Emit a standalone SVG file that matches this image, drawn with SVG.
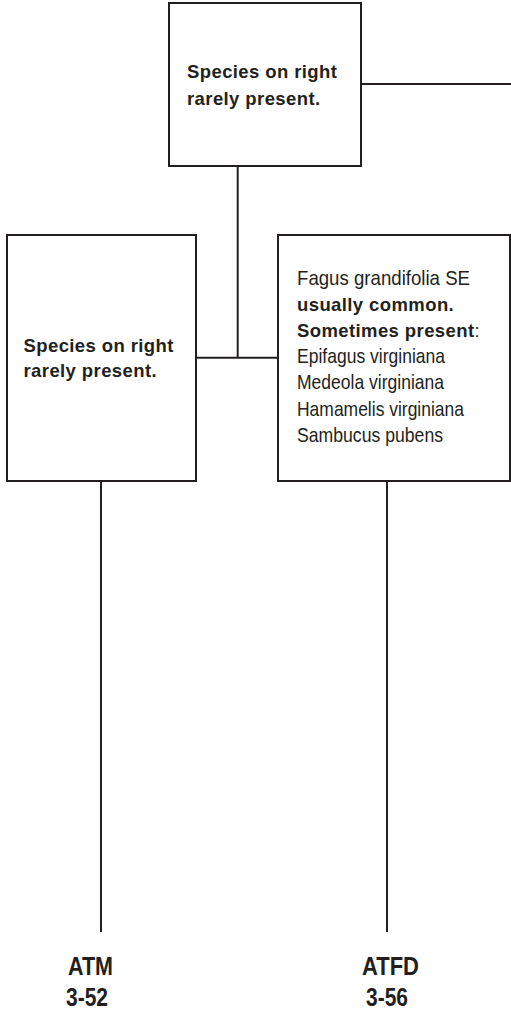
<svg xmlns="http://www.w3.org/2000/svg" width="511" height="1013" viewBox="0 0 511 1013">
<style>
.box{fill:#fff;stroke:#231f20;stroke-width:2}
.ln{stroke:#231f20;stroke-width:2;fill:none}
.b{font-family:"Liberation Sans",Arial,sans-serif;font-weight:bold;font-size:18.5px;letter-spacing:0.4px;fill:#231f20}
.r{font-family:"Liberation Sans",Arial,sans-serif;font-size:21px;fill:#231f20}
.lab{font-family:"Liberation Sans",Arial,sans-serif;font-weight:bold;font-size:25px;fill:#231f20}
</style>
<rect width="511" height="1013" fill="#fff"/>
<g id="connectors">
<line class="ln" x1="361" y1="84" x2="511" y2="84"/>
<line class="ln" x1="237.7" y1="166" x2="237.7" y2="358"/>
<line class="ln" x1="196" y1="357.7" x2="278" y2="357.7"/>
<line class="ln" x1="101" y1="481" x2="101" y2="932"/>
<line class="ln" x1="387" y1="481" x2="387" y2="932"/>
</g>
<g id="top">
<rect class="box" x="169" y="3" width="192" height="163"/>
<text class="b" x="187" y="78.3">Species on right</text>
<text class="b" x="187" y="105">rarely present.</text>
</g>
<g id="left">
<rect class="box" x="7" y="235" width="189" height="246"/>
<text class="b" x="23.5" y="352">Species on right</text>
<text class="b" x="23.5" y="377">rarely present.</text>
</g>
<g id="right">
<rect class="box" x="278" y="235" width="232" height="246"/>
<text class="r" x="297" y="284.5" textLength="173" lengthAdjust="spacingAndGlyphs">Fagus grandifolia SE</text>
<text class="b" x="297" y="310.6">usually common.</text>
<text class="b" x="297" y="336.8">Sometimes present<tspan font-weight="normal" letter-spacing="0">:</tspan></text>
<text class="r" x="297" y="363" textLength="148" lengthAdjust="spacingAndGlyphs">Epifagus virginiana</text>
<text class="r" x="297" y="389.2" textLength="147" lengthAdjust="spacingAndGlyphs">Medeola virginiana</text>
<text class="r" x="297" y="415.5" textLength="167" lengthAdjust="spacingAndGlyphs">Hamamelis virginiana</text>
<text class="r" x="297" y="441.8" textLength="146" lengthAdjust="spacingAndGlyphs">Sambucus pubens</text>
</g>
<g id="atm">
<text class="lab" x="68" y="975" textLength="45" lengthAdjust="spacingAndGlyphs">ATM</text>
<text class="lab" x="66" y="1006" textLength="42" lengthAdjust="spacingAndGlyphs">3-52</text>
</g>
<g id="atfd">
<text class="lab" x="362" y="975" textLength="57" lengthAdjust="spacingAndGlyphs">ATFD</text>
<text class="lab" x="366" y="1006" textLength="42" lengthAdjust="spacingAndGlyphs">3-56</text>
</g>
</svg>
